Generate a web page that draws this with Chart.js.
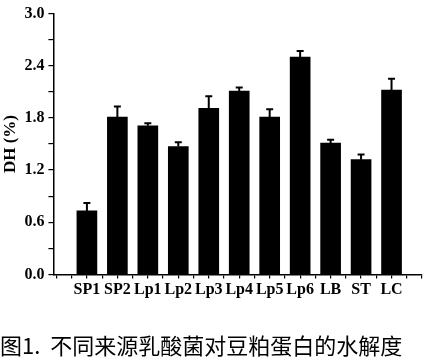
<!DOCTYPE html>
<html>
<head>
<meta charset="utf-8">
<script src="https://cdn.jsdelivr.net/npm/chart.js@4"></script>
<style>
html,body{margin:0;padding:0;background:#fff;}
#wrap{width:427px;height:363px;position:relative;}
</style>
</head>
<body>
<div id="wrap"><canvas id="c"></canvas></div>
<script>
const categories = ['SP1','SP2','Lp1','Lp2','Lp3','Lp4','Lp5','Lp6','LB','ST','LC'];
const dhValues = [0.73, 1.81, 1.71, 1.47, 1.91, 2.11, 1.81, 2.50, 1.51, 1.32, 2.12];
const dhErrors = [0.09, 0.12, 0.03, 0.05, 0.14, 0.04, 0.09, 0.07, 0.04, 0.06, 0.13];
const yTickLabels = ['0.0','0.6','1.2','1.8','2.4','3.0'];
const yAxisTitle = 'DH (%)';
const caption = '图1.  不同来源乳酸菌对豆粕蛋白的水解度';

const serif = '"Liberation Serif", "DejaVu Serif", serif';

const errorBarPlugin = {
  id: 'errorBars',
  afterDatasetsDraw(chart) {
    const meta = chart.getDatasetMeta(0);
    const ys = chart.scales.y;
    const ctx = chart.ctx;
    ctx.save();
    ctx.strokeStyle = '#000';
    ctx.lineWidth = 2;
    meta.data.forEach((bar, i) => {
      const top = ys.getPixelForValue(dhValues[i] + dhErrors[i]);
      ctx.beginPath();
      ctx.moveTo(bar.x, bar.y);
      ctx.lineTo(bar.x, top);
      ctx.moveTo(bar.x - 3.5, top);
      ctx.lineTo(bar.x + 3.5, top);
      ctx.stroke();
    });
    ctx.restore();
  }
};

new Chart(document.getElementById('c'), {
  type: 'bar',
  data: {
    datasets: [{
      data: categories.map((c, i) => ({x: i, y: dhValues[i]})),
      backgroundColor: '#000',
      borderWidth: 0,
      barThickness: 20
    }]
  },
  options: {
    responsive: true,
    maintainAspectRatio: false,
    animation: false,
    layout: { padding: { left: 0, right: 5, top: 13, bottom: 4 } },
    plugins: {
      legend: { display: false },
      tooltip: { enabled: false },
      title: {
        display: true,
        position: 'bottom',
        align: 'start',
        text: caption,
        color: '#000',
        font: { family: '"Noto Sans CJK SC", sans-serif', size: 22, weight: 'normal' },
        padding: { top: 31, bottom: 0 }
      }
    },
    scales: {
      x: {
        type: 'linear',
        offset: false,
        min: -1.1,
        max: 11,
        afterBuildTicks(scale) {
          const t = [];
          for (let k = -2; k <= 22; k++) t.push({ value: k / 2 });
          scale.ticks = t;
        },
        ticks: {
          autoSkip: false,
          maxRotation: 0,
          color: '#000',
          padding: 2,
          font: { family: serif, size: 16, weight: 'bold' },
          callback(v) {
            return Number.isInteger(v) && v >= 0 && v < categories.length ? categories[v] : '';
          }
        },
        grid: { display: true, offset: false, drawOnChartArea: false, drawTicks: true, tickLength: 4, color: '#000', lineWidth: 1.2 },
        border: { display: true, color: '#000', width: 1.5 }
      },
      y: {
        min: 0,
        max: 3.0,
        afterBuildTicks(scale) {
          const t = [];
          for (let k = 0; k <= 10; k++) t.push({ value: k * 0.3 });
          scale.ticks = t;
        },
        ticks: {
          color: '#000',
          padding: 4,
          font: { family: serif, size: 16, weight: 'bold' },
          callback(v) {
            const k = Math.round(v / 0.3);
            return k % 2 === 0 ? yTickLabels[k / 2] : '';
          }
        },
        title: {
          display: true,
          text: yAxisTitle,
          color: '#000',
          font: { family: serif, size: 17, weight: 'bold' },
          padding: { top: 0, bottom: 0 }
        },
        grid: { display: true, drawOnChartArea: false, drawTicks: true, tickLength: 5, color: '#000', lineWidth: 1.2 },
        border: { display: true, color: '#000', width: 1.5 }
      }
    }
  },
  plugins: [errorBarPlugin]
});
</script>
</body>
</html>
